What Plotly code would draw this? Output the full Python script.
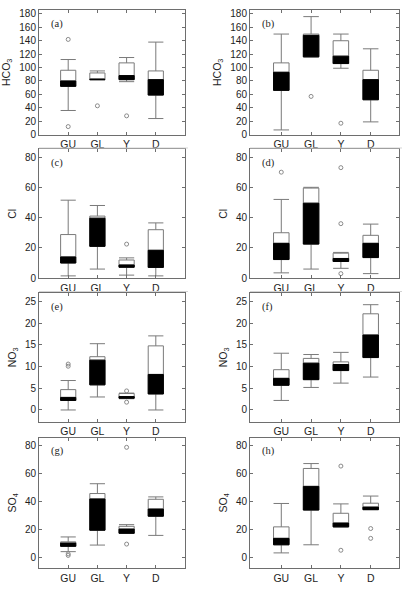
import plotly.graph_objects as go

W, H = 405, 590
cats = ["GU", "GL", "Y", "D"]
pos = [1, 2, 3, 4]

# ---- data (lower whisker, Q1, median, Q3, upper whisker, outliers) ----
a_lo = [36, 82, 79, 24]
a_q1 = [72, 82, 82, 59]
a_med = [80, 82.5, 88, 82]
a_q3 = [96, 92, 107, 95]
a_hi = [112, 95, 115, 138]
a_out_cat = [1, 1, 2, 3]
a_out_val = [142, 12, 43, 28]

b_lo = [7, 116, 99, 19]
b_q1 = [66, 116, 106, 52]
b_med = [93, 148, 117, 82]
b_q3 = [107, 150, 140, 96]
b_hi = [150, 176, 150, 128]
b_out_cat = [2, 3]
b_out_val = [57, 17]

c_lo = [1.5, 6, 2, 1.5]
c_q1 = [10, 21, 7.2, 7.1]
c_med = [14, 39.6, 8.7, 18.4]
c_q3 = [28.8, 41, 12, 32]
c_hi = [51.5, 48, 13.4, 36.5]
c_out_cat = [3]
c_out_val = [22.5]

d_lo = [3.5, 6, 6.5, 3]
d_q1 = [12.3, 22.5, 11, 13.6]
d_med = [23, 49.5, 13, 23]
d_q3 = [30, 59.5, 16.5, 28.3]
d_hi = [52, 60, 17, 35.7]
d_out_cat = [1, 3, 3, 3]
d_out_val = [70, 73, 36, 3]

e_lo = [0, 3, 2.6, 0]
e_q1 = [2.2, 5.8, 2.7, 3.7]
e_med = [2.9, 11.5, 3.1, 8.2]
e_q3 = [4.7, 12.3, 3.8, 14.8]
e_hi = [6.8, 15.3, 3.9, 17.1]
e_out_cat = [1, 1, 3, 3]
e_out_val = [10.6, 10.1, 4.4, 1.8]

f_lo = [2.2, 5.2, 6.2, 7.6]
f_q1 = [5.7, 7.0, 9.1, 12.1]
f_med = [7.3, 10.8, 10.5, 17.3]
f_q3 = [9.3, 11.9, 11.1, 22.2]
f_hi = [13.1, 12.8, 13.3, 24.3]
f_out_cat = []
f_out_val = []

g_lo = [3.9, 8.6, 17, 15.5]
g_q1 = [7.7, 19.2, 17, 29.2]
g_med = [10, 41.5, 20, 34.3]
g_q3 = [10.9, 45.4, 22, 41.3]
g_hi = [14.4, 52.4, 23.2, 43]
g_out_cat = [1, 1, 3, 3]
g_out_val = [2.3, 1.2, 78.4, 9.3]

h_lo = [3, 8.8, 21.6, 33.9]
h_q1 = [8.8, 33.6, 21.6, 33.9]
h_med = [13.4, 50.5, 24.3, 35.7]
h_q3 = [21.6, 63.3, 31.3, 38.5]
h_hi = [38.3, 66.8, 38, 43.6]
h_out_cat = [3, 3, 4, 4]
h_out_val = [65, 4.9, 20.4, 13.4]

panels = [
    ("a", "HCO<sub>3</sub>", a_lo, a_q1, a_med, a_q3, a_hi, a_out_cat, a_out_val),
    ("b", "HCO<sub>3</sub>", b_lo, b_q1, b_med, b_q3, b_hi, b_out_cat, b_out_val),
    ("c", "Cl", c_lo, c_q1, c_med, c_q3, c_hi, c_out_cat, c_out_val),
    ("d", "Cl", d_lo, d_q1, d_med, d_q3, d_hi, d_out_cat, d_out_val),
    ("e", "NO<sub>3</sub>", e_lo, e_q1, e_med, e_q3, e_hi, e_out_cat, e_out_val),
    ("f", "NO<sub>3</sub>", f_lo, f_q1, f_med, f_q3, f_hi, f_out_cat, f_out_val),
    ("g", "SO<sub>4</sub>", g_lo, g_q1, g_med, g_q3, g_hi, g_out_cat, g_out_val),
    ("h", "SO<sub>4</sub>", h_lo, h_q1, h_med, h_q3, h_hi, h_out_cat, h_out_val),
]

# ---- layout geometry (pixels) ----
cols = [(39, 185, [0, 5]), (250, 399, [-0.05, 4.95])]
rows = [
    (9, 135, [0, 186], [0, 20, 40, 60, 80, 100, 120, 140, 160, 180]),
    (150, 280, [0, 85], [0, 20, 40, 60, 80]),
    (295, 425, [-2.7, 27], [0, 5, 10, 15, 20, 25]),
    (441, 573, [-7.9, 85.4], [0, 20, 40, 60, 80]),
]

FRAME = "#6e6e6e"
BOXLINE = "#7a7a7a"
TXT = "#1e1e1e"

fig = go.Figure()
layout = dict(
    width=W, height=H, margin=dict(l=0, r=0, t=0, b=0),
    paper_bgcolor="white", plot_bgcolor="white", showlegend=False,
    boxmode="overlay", font=dict(family="Liberation Sans, Arial", color=TXT),
)
annotations = []
shapes = []

for i, (lab, ytitle, lo, q1, med, q3, hi, oc, ov) in enumerate(panels):
    r, c = divmod(i, 2)
    x0, x1, xr = cols[c]
    y0, y1, yr, yt = rows[r]
    n = i + 1
    xa = "x" if n == 1 else f"x{n}"
    ya = "y" if n == 1 else f"y{n}"
    xkey = "xaxis" if n == 1 else f"xaxis{n}"
    ykey = "yaxis" if n == 1 else f"yaxis{n}"
    layout[xkey] = dict(
        domain=[x0 / W, x1 / W], range=xr, anchor=ya,
        tickvals=pos, ticktext=cats, ticks="inside", ticklen=3,
        tickcolor=FRAME, showline=True, linecolor=FRAME, linewidth=1,
        mirror="ticks", showgrid=False, zeroline=False,
        tickfont=dict(size=10.5, color=TXT), ticklabelstandoff=0,
        fixedrange=True,
    )
    layout[ykey] = dict(
        domain=[1 - y1 / H, 1 - y0 / H], range=yr, anchor=xa,
        tickvals=yt, ticks="inside", ticklen=3, tickcolor=FRAME,
        showline=True, linecolor=FRAME, linewidth=1, mirror="ticks",
        showgrid=False, zeroline=False,
        tickfont=dict(size=10, color=TXT),
        title=dict(text=ytitle, font=dict(size=10.5, color=TXT), standoff=6),
        fixedrange=True,
    )
    # full box (white) with whiskers
    fig.add_trace(go.Box(
        x=pos, q1=q1, median=med, q3=q3, lowerfence=lo, upperfence=hi,
        width=0.52, whiskerwidth=1, fillcolor="white",
        line=dict(color=BOXLINE, width=1), boxpoints=False,
        xaxis=xa, yaxis=ya, hoverinfo="skip",
    ))
    # lower half (Q1 to median) in black
    fig.add_trace(go.Box(
        x=pos, q1=q1, median=q1, q3=med, lowerfence=q1, upperfence=med,
        width=0.52, whiskerwidth=0, fillcolor="black",
        line=dict(color="black", width=1), boxpoints=False,
        xaxis=xa, yaxis=ya, hoverinfo="skip",
    ))
    # outliers
    if ov:
        fig.add_trace(go.Scatter(
            x=oc, y=ov, mode="markers",
            marker=dict(symbol="circle-open", size=4, color="#8a8a8a",
                        line=dict(width=1)),
            xaxis=xa, yaxis=ya, hoverinfo="skip",
        ))
    annotations.append(dict(
        text=f"({lab})", xref="paper", yref="paper",
        x=(x0 + 10) / W, y=1 - (y0 + 14) / H, xanchor="left", yanchor="middle",
        showarrow=False, font=dict(family="Liberation Serif, DejaVu Serif", size=10.5, color=TXT),
    ))
    if r < 2:
        ly = y1 + 13.5
        shapes.append(dict(
            type="line", xref="paper", yref="paper",
            x0=(x0) / W, x1=(x1 + 3) / W, y0=1 - ly / H, y1=1 - ly / H,
            line=dict(color="#d4d4d4", width=1),
        ))

layout["annotations"] = annotations
layout["shapes"] = shapes
fig.update_layout(**layout)
fig.write_html("out.html")
